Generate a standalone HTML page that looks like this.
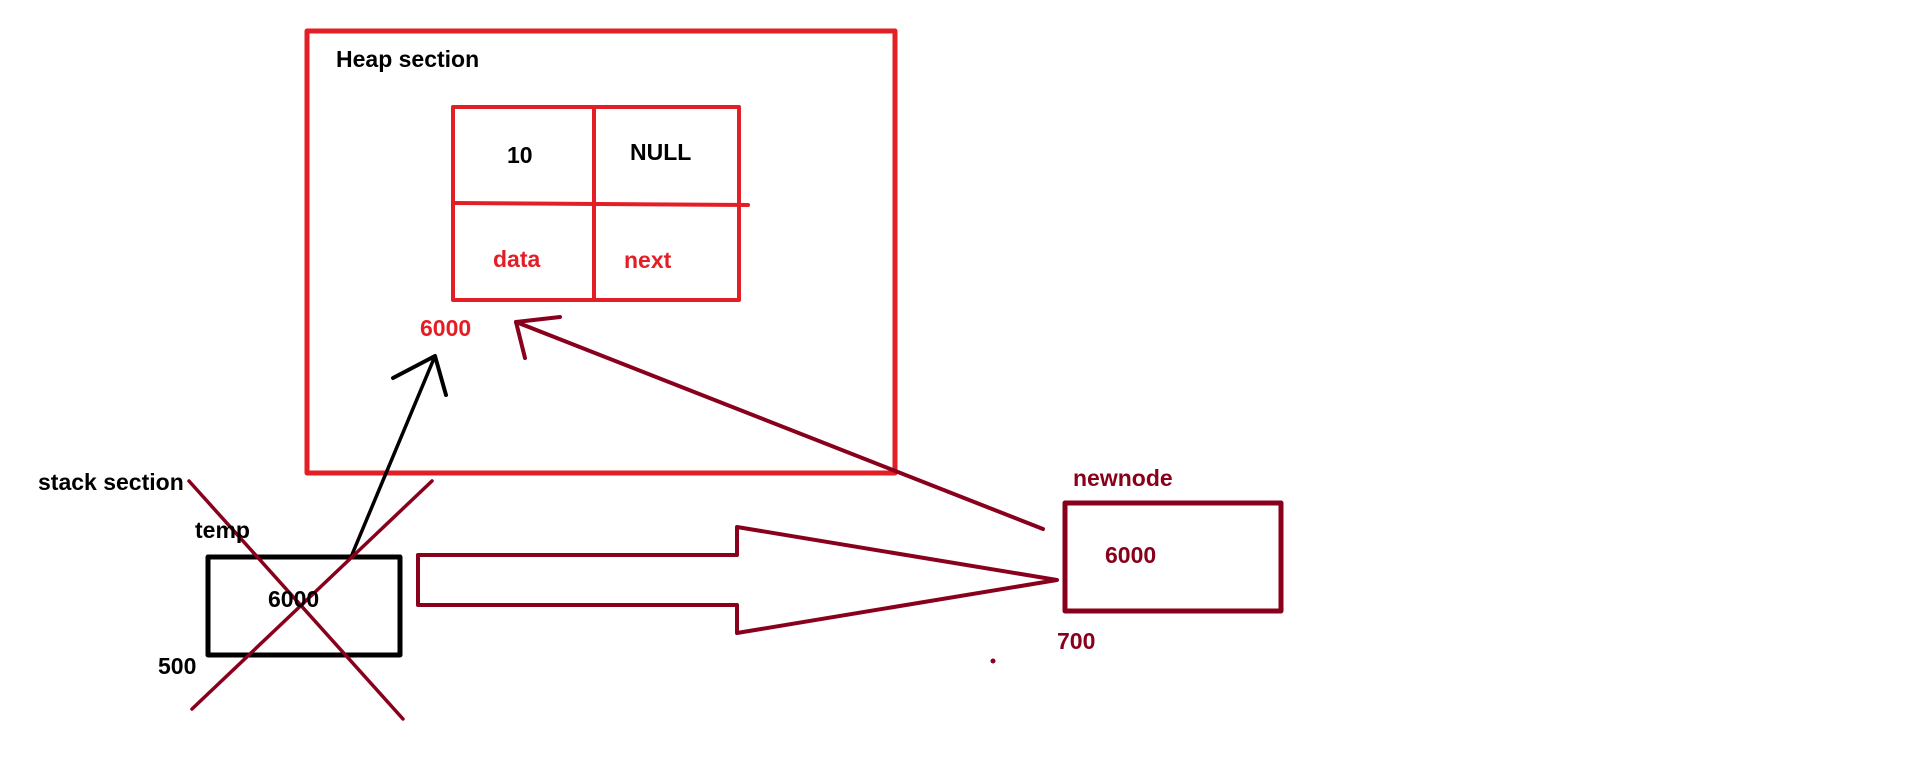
<!DOCTYPE html>
<html><head><style>
html,body{margin:0;padding:0;background:#fff;width:1910px;height:772px;overflow:hidden}
svg text{font-family:"Liberation Sans",sans-serif;font-weight:bold;font-size:23px;dominant-baseline:middle}
</style></head><body>
<svg width="1910" height="772" viewBox="0 0 1910 772" xmlns="http://www.w3.org/2000/svg">
<g fill="none" stroke-linecap="round" stroke-linejoin="round">
<rect x="307" y="31" width="588" height="442" stroke="#e31e25" stroke-width="5"/>
<rect x="453" y="107" width="286" height="193" stroke="#e31e25" stroke-width="4"/>
<line x1="594" y1="107" x2="594" y2="300" stroke="#e31e25" stroke-width="4"/>
<line x1="453" y1="203" x2="748" y2="205" stroke="#e31e25" stroke-width="4"/>
<rect x="208" y="557" width="192" height="98" stroke="#000" stroke-width="5"/>
<rect x="1065" y="503" width="216" height="108" stroke="#88001b" stroke-width="5"/>
<polyline points="351,557 435,356" stroke="#000" stroke-width="3.5"/>
<polyline points="393,378 435,356 446,395" stroke="#000" stroke-width="4"/>
<polyline points="1043,529 516,322" stroke="#88001b" stroke-width="4"/>
<polyline points="560,317 516,322 525,358" stroke="#88001b" stroke-width="4"/>
<line x1="189" y1="481" x2="403" y2="719" stroke="#88001b" stroke-width="3.5"/>
<line x1="432" y1="481" x2="192" y2="709" stroke="#88001b" stroke-width="3.5"/>
<polygon points="418,555 737,555 737,527 1057,580 737,633 737,605 418,605" stroke="#88001b" stroke-width="4"/>
</g>
<circle cx="993" cy="661" r="2.5" fill="#88001b"/>
<text x="336" y="61">Heap section</text>
<text x="507" y="157">10</text>
<text x="630" y="154">NULL</text>
<text x="493" y="261" fill="#e31e25">data</text>
<text x="624" y="262" fill="#e31e25">next</text>
<text x="420" y="330" fill="#e31e25">6000</text>
<text x="38" y="484">stack section</text>
<text x="195" y="532">temp</text>
<text x="158" y="668">500</text>
<text x="268" y="601">6000</text>
<text x="1073" y="480" fill="#88001b">newnode</text>
<text x="1105" y="557" fill="#88001b">6000</text>
<text x="1057" y="643" fill="#88001b">700</text>
</svg>
</body></html>
